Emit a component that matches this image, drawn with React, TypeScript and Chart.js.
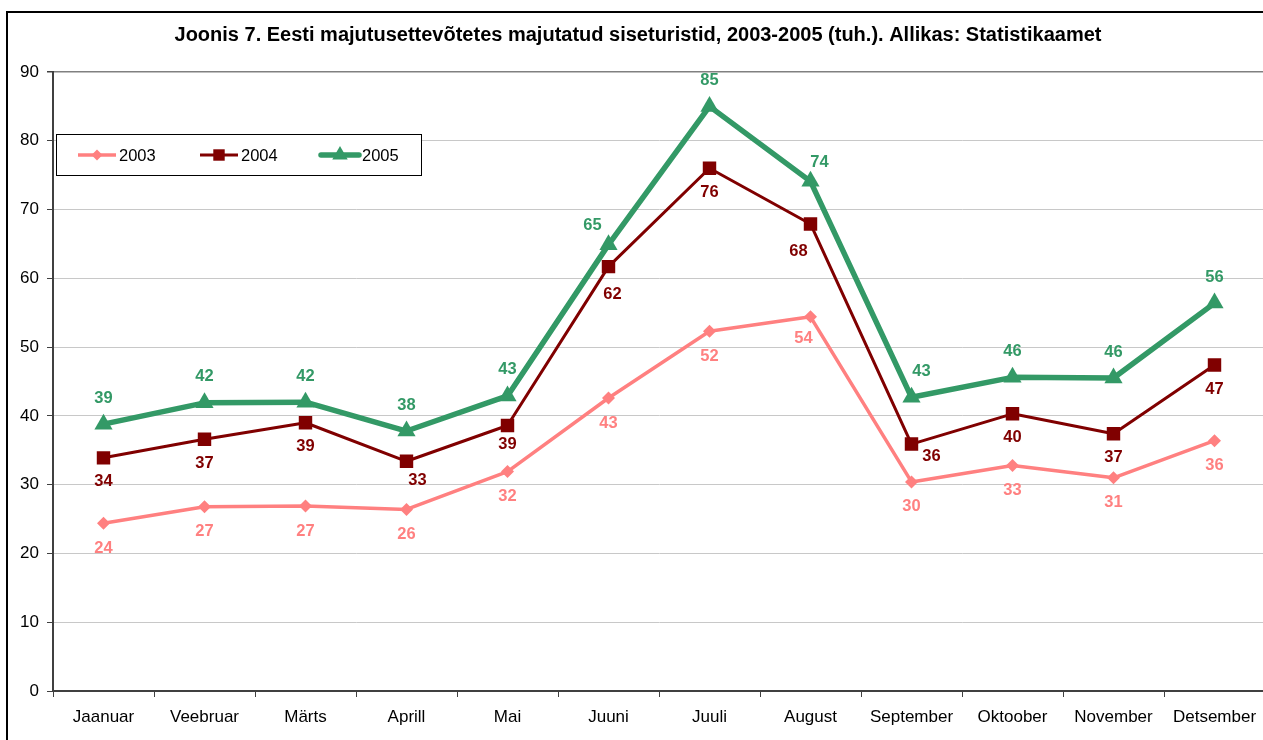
import React, { useEffect, useRef } from "react";
import { Chart, registerables } from "chart.js";

Chart.register(...registerables);

const TITLE = "Joonis 7. Eesti majutusettevõtetes majutatud siseturistid, 2003-2005 (tuh.). Allikas: Statistikaamet";
const categories = ["Jaanuar", "Veebruar", "Märts", "Aprill", "Mai", "Juuni", "Juuli", "August", "September", "Oktoober", "November", "Detsember"];
const seriesNames = ["2003", "2004", "2005"];
const values2003 = [24.4, 26.8, 26.9, 26.4, 31.9, 42.6, 52.3, 54.4, 30.4, 32.8, 31.0, 36.4];
const values2004 = [33.9, 36.6, 39.0, 33.4, 38.6, 61.7, 76.0, 67.9, 35.9, 40.3, 37.4, 47.4];
const values2005 = [38.8, 41.9, 42.0, 37.8, 42.9, 64.9, 85.0, 74.1, 42.7, 45.6, 45.5, 56.4];
const yMin = 0;
const yMax = 90;
const yStep = 10;

const COLORS = ["#FF8080", "#800000", "#339966"];
const FONT = "'Liberation Sans', Arial, sans-serif";

// label placement (style): default offsets per series, with a few overrides
const defaultLabelOffset: [number, number][] = [[0, 25], [0, 24], [0, -26]];
const labelOverrides: Record<string, [number, number]> = {
  "0-7": [-7, 22],
  "1-3": [11, 19],
  "1-4": [0, 19],
  "1-5": [4, 28],
  "1-7": [-12, 27],
  "1-8": [20, 12],
  "2-5": [-16, -19],
  "2-7": [9, -19],
  "2-8": [10, -26],
};

function drawMarker(ctx: CanvasRenderingContext2D, style: string, x: number, y: number, r: number, color: string) {
  ctx.save();
  ctx.fillStyle = color;
  ctx.beginPath();
  if (style === "rectRot") {
    ctx.moveTo(x, y - r);
    ctx.lineTo(x + r, y);
    ctx.lineTo(x, y + r);
    ctx.lineTo(x - r, y);
  } else if (style === "rect") {
    const s = r * Math.SQRT1_2;
    ctx.rect(x - s, y - s, 2 * s, 2 * s);
  } else {
    for (let i = 0; i < 3; i++) {
      const a = -Math.PI / 2 + (i * 2 * Math.PI) / 3;
      const px = x + Math.cos(a) * r;
      const py = y + Math.sin(a) * r;
      if (i === 0) ctx.moveTo(px, py);
      else ctx.lineTo(px, py);
    }
  }
  ctx.closePath();
  ctx.fill();
  ctx.restore();
}

const pointStyles = ["rectRot", "rect", "triangle"];
const pointRadii = [6.5, 9.5, 10.5];
const lineWidths = [3.5, 3, 5.5];

const framePlugin = {
  id: "frame",
  beforeDraw(chart: any) {
    const ctx = chart.ctx as CanvasRenderingContext2D;
    ctx.save();
    ctx.fillStyle = "#ffffff";
    ctx.fillRect(0, 0, chart.width, chart.height);
    ctx.strokeStyle = "#000000";
    ctx.lineWidth = 2;
    ctx.strokeRect(7, 12, 1266, 800);
    ctx.fillStyle = "#000000";
    ctx.font = `bold 20px ${FONT}`;
    ctx.textAlign = "center";
    ctx.textBaseline = "middle";
    ctx.fillText(TITLE, 638, 35);
    ctx.restore();
  },
};

const labelsPlugin = {
  id: "valueLabels",
  afterDatasetsDraw(chart: any) {
    const ctx = chart.ctx as CanvasRenderingContext2D;
    ctx.save();
    ctx.font = `bold 16.5px ${FONT}`;
    ctx.textAlign = "center";
    ctx.textBaseline = "middle";
    chart.data.datasets.forEach((ds: any, di: number) => {
      const meta = chart.getDatasetMeta(di);
      ctx.fillStyle = COLORS[di];
      meta.data.forEach((pt: any, i: number) => {
        const off = labelOverrides[`${di}-${i}`] || defaultLabelOffset[di];
        ctx.fillText(String(Math.round(ds.data[i])), pt.x + off[0], pt.y + off[1]);
      });
    });
    ctx.restore();
  },
};

const legendPlugin = {
  id: "customLegend",
  afterDraw(chart: any) {
    const ctx = chart.ctx as CanvasRenderingContext2D;
    ctx.save();
    ctx.fillStyle = "#ffffff";
    ctx.fillRect(56, 134, 365, 41);
    ctx.strokeStyle = "#000000";
    ctx.lineWidth = 1;
    ctx.strokeRect(56.5, 134.5, 365, 41);
    const xs = [78, 200, 321];
    const y = 155;
    ctx.font = `16.5px ${FONT}`;
    ctx.textBaseline = "middle";
    ctx.textAlign = "left";
    seriesNames.forEach((name, i) => {
      ctx.strokeStyle = COLORS[i];
      ctx.lineWidth = lineWidths[i];
      ctx.lineCap = i === 2 ? "round" : "butt";
      ctx.beginPath();
      ctx.moveTo(xs[i], y);
      ctx.lineTo(xs[i] + 38, y);
      ctx.stroke();
      drawMarker(ctx, pointStyles[i], xs[i] + 19, y, pointRadii[i] * 0.85, COLORS[i]);
      ctx.fillStyle = "#000000";
      ctx.fillText(name, xs[i] + 41, y + 1);
    });
    ctx.restore();
  },
};

export default function App() {
  const ref = useRef<HTMLCanvasElement | null>(null);
  useEffect(() => {
    if (!ref.current) return;
    const series = [values2003, values2004, values2005];
    const chart = new Chart(ref.current, {
      type: "line",
      data: {
        labels: categories,
        datasets: series.map((vals, i) => ({
          label: seriesNames[i],
          data: vals,
          borderColor: COLORS[i],
          backgroundColor: COLORS[i],
          borderWidth: lineWidths[i],
          pointStyle: pointStyles[i] as any,
          pointRadius: pointRadii[i],
          pointBorderWidth: 0,
          pointBackgroundColor: COLORS[i],
          tension: 0,
          fill: false,
          borderJoinStyle: "round" as any,
        })),
      },
      options: {
        responsive: false,
        animation: false,
        layout: { padding: { top: 72, left: 0, right: 25, bottom: 0 } },
        plugins: {
          legend: { display: false },
          title: { display: false },
          tooltip: { enabled: false },
        },
        scales: {
          x: {
            offset: true,
            grid: {
              offset: true,
              drawOnChartArea: false,
              drawTicks: true,
              tickLength: 6,
              tickColor: "#404040",
              tickWidth: 1,
            },
            border: { color: "#404040", width: 2 },
            ticks: {
              color: "#000000",
              font: { family: FONT, size: 17 },
              padding: 10,
              maxRotation: 0,
              autoSkip: false,
            },
            afterFit(scale: any) {
              scale.height = 69;
            },
          },
          y: {
            min: yMin,
            max: yMax,
            ticks: {
              stepSize: yStep,
              color: "#000000",
              font: { family: FONT, size: 17 },
              padding: 8,
            },
            grid: {
              color: (c: any) => (c.tick && c.tick.value === yMax ? "#808080" : "#c8c8c8"),
              lineWidth: (c: any) => (c.tick && c.tick.value === yMax ? 1.5 : 1),
              tickLength: 6,
              tickColor: "#404040",
            },
            border: { color: "#404040", width: 2 },
            afterFit(scale: any) {
              scale.width = 53;
            },
          },
        },
      },
      plugins: [framePlugin, labelsPlugin, legendPlugin],
    });
    return () => chart.destroy();
  }, []);
  return (
    <div style={{ position: "fixed", left: 0, top: 0, width: 1263, height: 740, overflow: "hidden", background: "#fff" }}>
      <canvas ref={ref} width={1290} height={760} style={{ display: "block", width: 1290, height: 760 }} />
    </div>
  );
}
